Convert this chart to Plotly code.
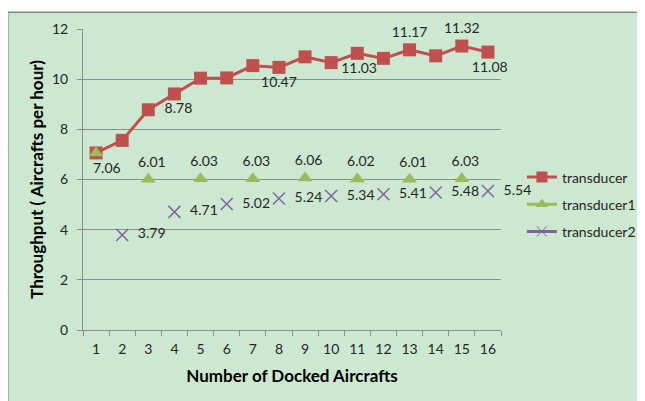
import plotly.graph_objects as go

# ---------------------------------------------------------------------------

categories = [str(i) for i in range(1, 17)]

transducer = [7.06, 7.56, 8.78, 9.41, 10.04, 10.05, 10.54, 10.47,
              10.89, 10.66, 11.03, 10.83, 11.17, 10.93, 11.32, 11.08]

cat_t1 = ["1", "3", "5", "7", "9", "11", "13", "15"]
transducer1 = [7.06, 6.01, 6.03, 6.03, 6.06, 6.02, 6.01, 6.03]

cat_t2 = ["2", "4", "6", "8", "10", "12", "14", "16"]
transducer2 = [3.79, 4.71, 5.02, 5.24, 5.34, 5.41, 5.48, 5.54]

# which red points carry a label, where, and how many padding spaces
red_labels = {0: ("bottom center", 6), 2: ("middle right", 2),
              7: ("bottom center", 0), 10: ("bottom center", 1),
              12: ("top center", 0), 14: ("top center", 0),
              15: ("bottom center", 1)}

# ---------------------------------------------------------------------------

RED = "#C0504D"
GREEN = "#9BBB59"
PURPLE = "#8064A2"
BG = "#CDE8D0"
GRID = "#8C8C8C"
FONT = "Lato, Carlito, Open Sans, sans-serif"
TXT = "#262626"

red_text = []
red_pos = []
for i, v in enumerate(transducer):
    if i in red_labels:
        pos, pad = red_labels[i]
        red_text.append(" " * pad + "%.2f" % v)
        red_pos.append(pos)
    else:
        red_text.append("")
        red_pos.append("middle right")

fig = go.Figure()

fig.add_trace(go.Scatter(
    x=categories, y=transducer, mode="lines+markers+text",
    line=dict(color=RED, width=3),
    marker=dict(symbol="square", size=13, color=RED),
    text=red_text, textposition=red_pos,
    textfont=dict(size=14, color=TXT),
    showlegend=False, cliponaxis=False))

fig.add_trace(go.Scatter(
    x=cat_t1, y=transducer1, mode="markers+text",
    marker=dict(symbol="triangle-up", size=13, color=GREEN),
    text=["" if i == 0 else "  %.2f" % v for i, v in enumerate(transducer1)],
    textposition="top center",
    textfont=dict(size=14, color=TXT),
    showlegend=False, cliponaxis=False))

fig.add_trace(go.Scatter(
    x=cat_t2, y=transducer2, mode="markers+text",
    marker=dict(symbol="x-thin", size=12, color=PURPLE,
                line=dict(color=PURPLE, width=1.5)),
    text=["  %.2f" % v for v in transducer2],
    textposition="middle right",
    textfont=dict(size=14, color=TXT),
    showlegend=False, cliponaxis=False))

# legend entries (line + marker, as in the original)
legend_specs = [("transducer", RED, dict(symbol="square", size=11, color=RED)),
                ("transducer1", GREEN, dict(symbol="triangle-up", size=11, color=GREEN)),
                ("transducer2", PURPLE, dict(symbol="x-thin", size=10, color=PURPLE,
                                             line=dict(color=PURPLE, width=1)))]
for name, col, mk in legend_specs:
    fig.add_trace(go.Scatter(
        x=[None], y=[None], mode="lines+markers", name=name,
        line=dict(color=col, width=3), marker=mk, legendgroup=name))

fig.add_shape(type="rect", xref="paper", yref="paper",
              x0=-0.18, x1=2, y0=-1, y1=1.0557,
              fillcolor=BG, line=dict(color="#868686", width=1.5),
              layer="below")

fig.update_layout(
    width=645, height=401,
    margin=dict(l=75, r=148, t=17, b=79),
    paper_bgcolor="white",
    plot_bgcolor=BG,
    font=dict(family=FONT, size=14, color=TXT),
    legend=dict(x=1.05, y=0.56, xanchor="left", yanchor="top",
                bgcolor="rgba(0,0,0,0)", tracegroupgap=6,
                font=dict(size=14, color=TXT)),
    xaxis=dict(
        type="category", categoryorder="array", categoryarray=categories,
        range=[-0.5, 15.5],
        showgrid=False, zeroline=False,
        showline=True, linecolor=GRID, linewidth=1,
        ticks="outside", tickson="boundaries", ticklen=5, tickcolor=GRID,
        ticklabelstandoff=6, tickangle=0,
        tickfont=dict(size=14, color=TXT),
        title=dict(text="<b>Number of Docked Aircrafts</b>",
                   font=dict(size=17, color="black"), standoff=14)),
    yaxis=dict(
        range=[0, 12], dtick=2,
        showgrid=True, gridcolor=GRID, gridwidth=1,
        zeroline=False,
        showline=True, linecolor=GRID, linewidth=1,
        ticks="outside", ticklen=5, tickcolor=GRID,
        ticklabelstandoff=6,
        tickfont=dict(size=14, color=TXT),
        title=dict(text="<b>Throughput ( Aircrafts per hour)</b>",
                   font=dict(size=17, color="black"), standoff=4)),
)

fig.write_html("out.html")
